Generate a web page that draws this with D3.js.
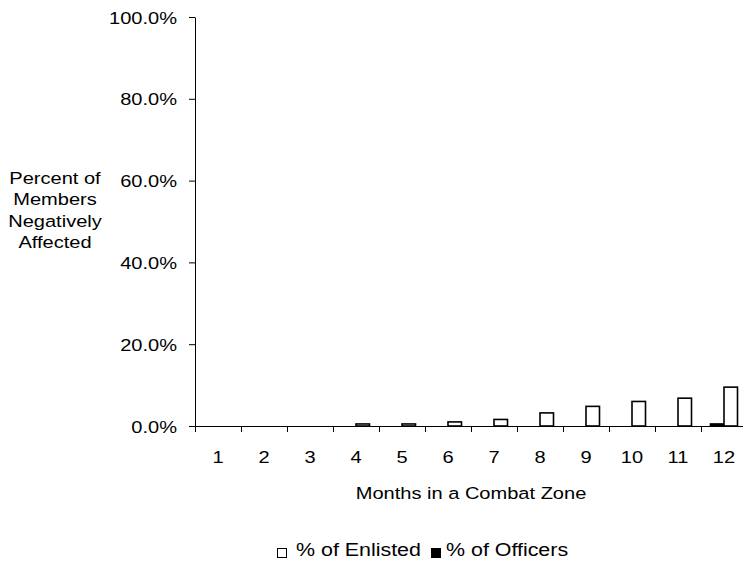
<!DOCTYPE html>
<html>
<head>
<meta charset="utf-8">
<script src="https://cdn.jsdelivr.net/npm/d3@7/dist/d3.min.js"></script>
<style>
  html, body { margin: 0; padding: 0; background: #fff; }
  text { font-family: "Liberation Sans", Arial, sans-serif; fill: #000; }
</style>
</head>
<body>
<svg id="chart" width="743" height="561"></svg>
<script>
const months = ["1","2","3","4","5","6","7","8","9","10","11","12"];
const enlisted = [0, 0, 0, 0.5, 0.5, 1.0, 1.6, 3.2, 4.8, 6.0, 6.8, 9.5];
const officers = [0, 0, 0, 0, 0, 0, 0, 0, 0, 0, 0, 0.5];
const yTicks = [0, 20, 40, 60, 80, 100];
const seriesNames = ["% of Enlisted", "% of Officers"];
const yTitleLines = ["Percent of", "Members", "Negatively", "Affected"];
const xTitle = "Months in a Combat Zone";

const SX = 1.18; // horizontal text stretch seen in reference
const FS = 17;

const svg = d3.select("#chart");
const x0 = 195, x1 = 747, yTop = 17, yBase = 426;

const x = d3.scaleBand().domain(months).range([x0, x1]).paddingInner(0).paddingOuter(0);
const y = d3.scaleLinear().domain([0, 100]).range([yBase, yTop]);

function stretchText(sel, xPos, yPos) {
  sel.attr("x", null).attr("y", null)
     .attr("transform", `translate(${xPos},${yPos}) scale(${SX},1)`);
}

// Y axis
const yAxis = d3.axisLeft(y).tickValues(yTicks).tickSize(6).tickSizeOuter(0)
  .tickFormat(d => d.toFixed(1) + "%");
const gy = svg.append("g").attr("transform", `translate(${x0},0)`).call(yAxis);
gy.select(".domain").attr("stroke", "#000").attr("stroke-width", 1);
gy.selectAll(".tick line").attr("stroke", "#000");
gy.selectAll(".tick text")
  .style("font-size", FS + "px")
  .attr("dy", null)
  .each(function() { stretchText(d3.select(this), -18, 6); });

// X axis
const xAxis = d3.axisBottom(x).tickSize(0).tickSizeOuter(0);
const gx = svg.append("g").attr("transform", `translate(0,${yBase})`).call(xAxis);
gx.select(".domain").attr("stroke", "#000").attr("stroke-width", 1);
gx.selectAll(".tick text")
  .style("font-size", FS + "px")
  .attr("dy", null)
  .each(function() { stretchText(d3.select(this), 0, 37); });
// boundary tick marks
gx.selectAll(".bound").data(months).enter().append("line")
  .attr("class", "bound")
  .attr("x1", d => x(d) + 0.5).attr("x2", d => x(d) + 0.5)
  .attr("y1", 0).attr("y2", 6)
  .attr("stroke", "#000");

// Bars
const bw = 13.5;
const bars = [];
months.forEach((m, i) => {
  bars.push({m, v: officers[i], s: 1});
  bars.push({m, v: enlisted[i], s: 0});
});
svg.append("g").selectAll("rect").data(bars.filter(d => d.v > 0)).enter().append("rect")
  .attr("x", d => x(d.m) + x.bandwidth() / 2 + (d.s === 0 ? 0 : -bw))
  .attr("y", d => y(d.v))
  .attr("width", bw)
  .attr("height", d => yBase - y(d.v))
  .attr("fill", d => d.s === 0 ? "#fff" : "#000")
  .attr("stroke", "#000")
  .attr("stroke-width", 1.6);

// Y title
const yt = svg.append("g");
yTitleLines.forEach((t, i) => {
  yt.append("text").text(t)
    .attr("text-anchor", "middle")
    .style("font-size", FS + "px")
    .attr("transform", `translate(55,${184 + i * 21.3}) scale(${SX},1)`);
});

// X title
svg.append("text").text(xTitle)
  .attr("text-anchor", "middle")
  .style("font-size", FS + "px")
  .attr("transform", `translate(471,499) scale(${SX},1)`);

// Legend
const legend = svg.append("g");
const legItems = [
  {name: seriesNames[0], fill: "#fff", sq: 277, tx: 296},
  {name: seriesNames[1], fill: "#000", sq: 431, tx: 446}
];
legItems.forEach(d => {
  legend.append("rect").attr("x", d.sq + 0.5).attr("y", 548.5).attr("width", 9).attr("height", 9)
    .attr("fill", d.fill).attr("stroke", "#000").attr("stroke-width", 1);
  legend.append("text").text(d.name)
    .style("font-size", "18px")
    .attr("transform", `translate(${d.tx},556) scale(1.19,1)`);
});
</script>
</body>
</html>
